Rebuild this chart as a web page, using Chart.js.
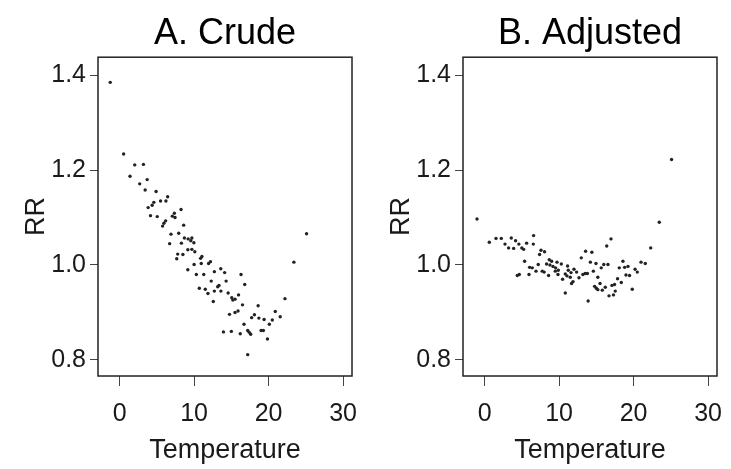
<!DOCTYPE html>
<html>
<head>
<meta charset="utf-8">
<script src="https://cdn.jsdelivr.net/npm/chart.js@4.4.1/dist/chart.umd.min.js"></script>
<style>
    body { margin: 0; background: #fff; overflow: hidden; }
    #wrap { position: relative; width: 731px; height: 469px; overflow: hidden; }
    canvas { position: absolute; top: 0; }
</style>
</head>
<body>
<div id="wrap">
    <!-- canvases overlap a little, so the "30" label is never squeezed -->
    <canvas id="crudeChart" width="450" height="469" style="left:0"></canvas>
    <canvas id="adjChart" width="450" height="469" style="left:365px"></canvas>
</div>
<script>
// panel A: crude RR against temperature
const crudeTemp = [-1.26, 0.54, 2.03, 3.2, 1.4, 3.7, 2.7, 3.43, 4.9, 6.45,
    5.5, 6.22, 4.6, 4.37, 3.83, 8.25, 7.35, 7.08, 4.15, 5.05, 7.44, 6.18, 5.95, 5.77, 8.6,
    6.9, 7.94, 8.7, 9.2, 9.7, 9.56, 6.72, 8.3, 9.97, 9.16, 9.7, 10.1, 7.8, 8.5, 7.67,
    11.05, 10.87, 12.2, 11.95, 10.96, 10.0, 9.16, 13.58, 12.72, 14.1, 10.3, 11.3, 16.3,
    12.3, 14.3, 16.8, 13.35, 13.17, 10.7, 11.5, 12.72, 13.6, 11.86, 14.57, 15.97, 15.06,
    15.5, 15.2, 12.58, 16.5, 22.2, 18.6, 20.9, 15.9, 15.5, 14.75, 21.56, 17.73, 18.1,
    18.7, 19.4, 20.5, 20.1, 16.7, 19.0, 19.3, 17.2, 17.4, 17.6, 13.94, 15.0, 16.2, 19.85,
    17.2, 23.4, 25.1];
const crudeRR = [1.385, 1.234, 1.211, 1.212, 1.187, 1.180, 1.171, 1.158, 1.155, 1.144,
    1.135, 1.135, 1.132, 1.126, 1.121, 1.117, 1.109, 1.103, 1.104, 1.102, 1.100, 1.093, 1.088, 1.082, 1.084,
    1.065, 1.067, 1.057, 1.055, 1.057, 1.051, 1.045, 1.046, 1.047, 1.032, 1.033, 1.028, 1.023, 1.022, 1.013,
    1.018, 1.014, 1.007, 1.003, 1.003, 1.001, 0.990, 0.992, 0.986, 0.984, 0.980, 0.980, 0.980,
    0.966, 0.966, 0.959, 0.957, 0.954, 0.951, 0.949, 0.945, 0.945, 0.940, 0.941, 0.937, 0.931,
    0.928, 0.926, 0.923, 0.916, 0.929, 0.914, 0.902, 0.903, 0.900, 0.896, 0.891, 0.889, 0.895,
    0.888, 0.885, 0.884, 0.875, 0.875, 0.862, 0.862, 0.862, 0.858, 0.854, 0.859, 0.860, 0.855, 0.844,
    0.811, 1.006, 1.066];

// panel B: adjusted RR against temperature
const adjTemp = [-1.02, 23.45, 25.1, 0.63, 1.53, 2.24, 3.58, 2.74, 3.22, 3.9, 4.16, 4.6, 5.0,
    5.24, 5.64, 6.54, 6.58, 7.57, 8.05, 7.38, 5.37, 7.2, 8.68, 9.0, 8.32, 8.77, 9.18, 9.72,
    10.3, 9.53, 6.04, 6.4, 6.9, 7.74, 8.0, 9.49, 9.89, 9.85, 5.96, 4.66, 4.39, 8.59, 11.14,
    11.23, 11.6, 12.0, 12.35, 10.83, 11.06, 11.5, 10.47, 11.87, 11.68, 12.67, 13.2, 13.5,
    13.8, 12.98, 13.56, 14.4, 14.2, 14.95, 14.6, 15.66, 16.0, 16.56, 15.2, 15.5, 14.77,
    15.0, 15.2, 15.8, 16.2, 16.4, 16.97, 16.7, 17.3, 17.1, 17.45, 17.54, 17.85, 18.35,
    18.08, 18.57, 18.8, 19.25, 18.98, 19.46, 19.82, 20.2, 20.5, 21.0, 21.57, 22.3, 10.83, 13.9];
const adjRR = [1.097, 1.090, 1.2225, 1.048, 1.056, 1.056, 1.057, 1.044, 1.036, 1.035, 1.051, 1.044, 1.036,
    1.033, 1.046, 1.044, 1.062, 1.031, 1.028, 1.022, 1.008, 1.001, 1.011, 1.008, 1.002, 1.000, 0.997, 1.006,
    1.002, 0.994, 0.995, 0.994, 0.987, 0.987, 0.985, 0.987, 0.989, 0.980, 0.980, 0.980, 0.978, 0.978, 0.998,
    0.989, 0.984, 0.991, 0.985, 0.981, 0.977, 0.974, 0.970, 0.965, 0.961, 0.973, 0.980, 0.982,
    0.982, 1.015, 1.029, 1.027, 1.006, 1.003, 0.987, 0.994, 1.001, 1.001, 0.974, 0.961, 0.955,
    0.951, 0.948, 0.947, 0.953, 1.040, 1.055, 0.935, 0.937, 0.957, 0.959, 0.945, 0.971, 0.963,
    0.994, 1.008, 0.995, 0.997, 0.979, 0.978, 0.949, 0.991, 0.985, 1.006, 1.003, 1.036, 0.941, 0.924];

const xTicks = [0, 10, 20, 30];
const yTicks = [0.8, 1.0, 1.2, 1.4];

const FONT = "'Liberation Sans', Arial, sans-serif";
const INK = '#1a1a1a';

// draw the frame round the plot area (R style box)
const boxPlugin = {
    id: 'box',
    afterDraw(chart) {
        const a = chart.chartArea;
        const ctx = chart.ctx;
        ctx.save();
        ctx.strokeStyle = '#222';
        ctx.lineWidth = 1.5;
        ctx.strokeRect(a.left, a.top, a.right - a.left, a.bottom - a.top);
        ctx.restore();
    }
};

function makeChart(id, title, xs, ys) {
    const points = xs.map((x, i) => ({ x: x, y: ys[i] }));
    const ctx = document.getElementById(id).getContext('2d');
    return new Chart(ctx, {
        type: 'scatter',
        data: {
            datasets: [{
                data: points,
                pointRadius: 1.7,
                pointBorderWidth: 0,
                backgroundColor: '#222',
                borderColor: '#222'
            }]
        },
        options: {
            responsive: false,
            animation: false,
            devicePixelRatio: 1,
            layout: { padding: { left: 0, right: 98, top: 0, bottom: 0 } },
            plugins: {
                legend: { display: false },
                tooltip: { enabled: false },
                title: {
                    display: true,
                    fullSize: false, // centre over the plot box, not the canvas
                    text: title,
                    color: '#000',
                    font: { family: FONT, size: 36, weight: 'normal' },
                    padding: { top: 12, bottom: 2 }
                }
            },
            scales: {
                x: {
                    type: 'linear',
                    min: -2.9,
                    max: 31.2,
                    afterBuildTicks: (s) => { s.ticks = xTicks.map(v => ({ value: v })); },
                    afterFit: (s) => { s.height = 93; },
                    border: { display: false },
                    grid: { drawOnChartArea: false, drawTicks: true, tickLength: 10, color: '#444' },
                    ticks: { color: INK, padding: 13, maxRotation: 0, font: { family: FONT, size: 25 } },
                    title: {
                        display: true,
                        text: 'Temperature',
                        color: INK,
                        font: { family: FONT, size: 27 },
                        padding: { top: 2, bottom: 2 }
                    }
                },
                y: {
                    type: 'linear',
                    min: 0.766,
                    max: 1.438,
                    afterBuildTicks: (s) => { s.ticks = yTicks.map(v => ({ value: v })); },
                    afterFit: (s) => { s.width = 98; },
                    border: { display: false },
                    grid: { drawOnChartArea: false, drawTicks: true, tickLength: 8, color: '#444' },
                    ticks: {
                        color: INK,
                        padding: 4,
                        font: { family: FONT, size: 25 },
                        callback: (v) => Number(v).toFixed(1)
                    },
                    title: {
                        display: true,
                        text: 'RR',
                        color: INK,
                        font: { family: FONT, size: 27 },
                        padding: { top: 20, bottom: 0 }
                    }
                }
            }
        },
        plugins: [boxPlugin]
    });
}

makeChart('crudeChart', 'A. Crude', crudeTemp, crudeRR);
makeChart('adjChart', 'B. Adjusted', adjTemp, adjRR);
</script>
</body>
</html>
